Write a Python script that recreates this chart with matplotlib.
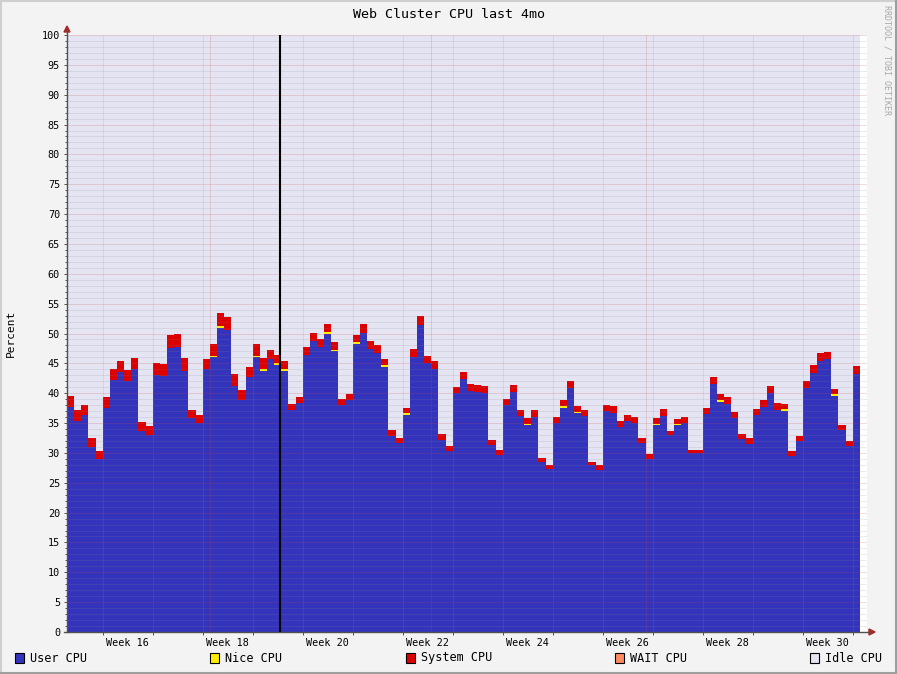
"""
Web Cluster CPU last 4mo - recreacion estilo rrdtool (areas apiladas por dia).
"""

import matplotlib
matplotlib.use("Agg")

import matplotlib.pyplot as plt
import numpy as np
from matplotlib.lines import Line2D
from matplotlib.patches import Rectangle, Polygon

W, H, DPI = 897, 674, 100
MONO = "DejaVu Sans Mono"

# --- datos (porcentaje por dia, 111 dias) ---
user_cpu = [
    37.7, 35.3, 36.3, 31.0, 28.9, 37.6, 42.2, 43.6, 42.0, 44.0,
    33.7, 33.0, 43.0, 42.8, 47.6, 47.7, 43.7, 35.8, 35.0, 44.0,
    46.0, 51.0, 50.6, 41.2, 38.9, 42.7, 46.0, 43.7, 45.7, 44.8,
    43.8, 37.2, 38.4, 46.4, 48.7, 47.7, 50.0, 47.0, 38.0, 38.9,
    48.2, 50.1, 47.4, 46.7, 44.4, 32.9, 31.7, 36.3, 46.1, 51.4,
    45.1, 44.1, 32.2, 30.3, 40.0, 42.4, 40.4, 40.2, 40.0, 31.3,
    29.6, 38.0, 40.2, 36.2, 34.6, 36.0, 28.5, 27.3, 35.0, 37.6,
    40.9, 36.6, 36.2, 28.0, 27.1, 37.0, 36.7, 34.3, 35.3, 35.0,
    31.7, 29.0, 34.6, 36.2, 33.0, 34.6, 35.0, 30.0, 30.0, 36.5,
    41.5, 38.6, 38.2, 35.8, 32.3, 31.5, 36.3, 37.7, 40.0, 37.2,
    37.0, 29.5, 32.0, 40.9, 43.4, 45.4, 45.7, 39.5, 33.8, 31.2,
    43.2,
]
nice_cpu = [
    0, 0, 0, 0, 0, 0, 0, 0, 0, 0,
    0, 0, 0, 0, 0, 0, 0, 0, 0, 0,
    0.3, 0.3, 0, 0, 0, 0, 0.3, 0.3, 0, 0.3,
    0.3, 0, 0, 0, 0, 0, 0.3, 0.3, 0, 0,
    0.3, 0, 0, 0, 0.3, 0, 0, 0.3, 0, 0,
    0, 0, 0, 0, 0, 0, 0, 0, 0, 0,
    0, 0, 0, 0, 0.3, 0, 0, 0, 0, 0.3,
    0, 0.3, 0, 0, 0, 0, 0, 0, 0, 0,
    0, 0, 0.3, 0, 0, 0.3, 0, 0, 0, 0,
    0, 0.3, 0, 0, 0, 0, 0, 0, 0, 0,
    0.3, 0, 0, 0, 0, 0, 0, 0.3, 0, 0,
    0,
]
system_cpu = [
    1.8, 1.9, 1.7, 1.5, 1.4, 1.8, 1.8, 1.8, 1.9, 1.9,
    1.5, 1.5, 2.1, 2.1, 2.1, 2.3, 2.2, 1.4, 1.3, 1.7,
    2.0, 2.1, 2.2, 2.0, 1.6, 1.7, 1.9, 1.9, 1.5, 1.3,
    1.3, 1.0, 1.0, 1.3, 1.4, 1.4, 1.3, 1.3, 1.0, 1.0,
    1.2, 1.5, 1.3, 1.4, 1.0, 0.9, 0.8, 0.9, 1.3, 1.5,
    1.1, 1.3, 1.0, 0.9, 1.0, 1.2, 1.1, 1.2, 1.2, 0.9,
    0.9, 1.0, 1.2, 1.0, 0.9, 1.2, 0.6, 0.7, 1.0, 1.0,
    1.1, 1.0, 1.0, 0.5, 0.9, 1.0, 1.2, 1.0, 1.0, 1.0,
    0.8, 0.8, 0.9, 1.2, 0.7, 0.8, 1.0, 0.5, 0.5, 1.0,
    1.2, 1.0, 1.2, 1.1, 0.9, 1.0, 1.1, 1.2, 1.2, 1.2,
    0.9, 0.8, 0.8, 1.1, 1.3, 1.3, 1.2, 0.9, 0.9, 0.8,
    1.4,
]
week_labels = ["Week 16", "Week 18", "Week 20", "Week 22",
               "Week 24", "Week 26", "Week 28", "Week 30"]
legend_labels = ["User CPU", "Nice CPU", "System CPU", "WAIT CPU", "Idle CPU"]

COL_USER, COL_NICE, COL_SYS = "#3333BB", "#FFEE00", "#DD0000"
COL_WAIT, COL_IDLE = "#FF8A60", "#E4E4F2"
GRID = (0.55, 0.55, 0.55, 0.32)
MGRID = (0.80, 0.30, 0.30, 0.38)
ARROW = "#A52A2A"


def fx(px):
    return px / W


def fy(py):
    return 1 - py / H


fig = plt.figure(figsize=(W / DPI, H / DPI), dpi=DPI, facecolor="#F3F3F3")

# marco 3D tipo rrdtool
fig.add_artist(Line2D([0, 1], [fy(1), fy(1)], color="#CFCFCF", lw=1.5))
fig.add_artist(Line2D([fx(1), fx(1)], [0, 1], color="#CFCFCF", lw=1.5))
fig.add_artist(Line2D([0, 1], [fy(673), fy(673)], color="#9E9E9E", lw=1.5))
fig.add_artist(Line2D([fx(896), fx(896)], [0, 1], color="#9E9E9E", lw=1.5))

ax = fig.add_axes([fx(67), fy(632), (867 - 67) / W, (632 - 35) / H])
ax.set_facecolor("white")
ax.set_xlim(0, 112)
ax.set_ylim(0, 100)

user = np.array(user_cpu)
nice = np.array(nice_cpu)
system = np.array(system_cpu)
n = len(user)
edges = np.arange(n + 1)

top_user = user
top_nice = top_user + nice
top_sys = top_nice + system
ax.stairs(top_user, edges, baseline=0, fill=True, color=COL_USER, lw=0, zorder=1)
ax.stairs(top_nice, edges, baseline=top_user, fill=True, color=COL_NICE, lw=0, zorder=1)
ax.stairs(top_sys, edges, baseline=top_nice, fill=True, color=COL_SYS, lw=0, zorder=1)
ax.stairs(np.full(n, 100.0), edges, baseline=top_sys, fill=True, color=COL_IDLE, lw=0, zorder=1)

# rejilla punteada encima de las areas
dots = (0, (1, 1))
for y in range(1, 101):
    ax.axhline(y, color=MGRID if y % 5 == 0 else GRID, lw=0.72, ls=dots, zorder=3)
for d in range(5, 112, 7):
    ax.axvline(d, color=GRID, lw=0.72, ls=dots, zorder=3)
for d in (20, 51, 81):
    ax.axvline(d, color=MGRID, lw=0.72, ls=dots, zorder=3)

# VRULE
ax.axvline(29.8, color="black", lw=1.5, zorder=4)

for s in ax.spines.values():
    s.set_visible(False)

# ejes con flecha
fig.add_artist(Line2D([fx(67), fx(67)], [fy(632), fy(31)], color="#505050", lw=1))
fig.add_artist(Line2D([fx(64), fx(869)], [fy(632), fy(632)], color="#505050", lw=1))
fig.add_artist(Polygon([[fx(64), fy(32)], [fx(70), fy(32)], [fx(67), fy(26)]],
                       closed=True, color=ARROW, transform=fig.transFigure))
fig.add_artist(Polygon([[fx(869), fy(629)], [fx(869), fy(635)], [fx(875), fy(632)]],
                       closed=True, color=ARROW, transform=fig.transFigure))

ax.set_yticks(range(0, 101, 5))
ax.set_yticks(range(0, 101), minor=True)
ax.tick_params(axis="y", which="major", length=2, width=0.7, color="#505050",
               pad=3, labelsize=7.3)
ax.tick_params(axis="y", which="minor", length=1.5, width=0.7, color="#505050")
for lab in ax.get_yticklabels():
    lab.set_fontfamily(MONO)

ax.set_xticks([8.5 + 14 * i for i in range(len(week_labels))], week_labels)
ax.set_xticks(range(5, 112, 7), minor=True)
ax.tick_params(axis="x", which="major", length=0, pad=4, labelsize=7.3)
ax.tick_params(axis="x", which="minor", length=2, width=0.7, color="#505050")
for lab in ax.get_xticklabels():
    lab.set_fontfamily(MONO)

fig.text(0.5, fy(14), "Web Cluster CPU last 4mo", ha="center", va="center",
         fontsize=9.6, family=MONO)
fig.text(fx(11), fy(333), "Percent", ha="center", va="center", rotation=90,
         fontsize=8, family=MONO)
fig.text(fx(887), fy(5), "RRDTOOL / TOBI OETIKER", ha="center", va="top",
         rotation=270, fontsize=6, family=MONO, color="#A8A8A8")

# leyenda
legend_cols = [COL_USER, COL_NICE, COL_SYS, COL_WAIT, COL_IDLE]
legend_x = [15, 210, 406, 615, 810]
for lab, col, x in zip(legend_labels, legend_cols, legend_x):
    fig.add_artist(Rectangle((fx(x), fy(663)), 9 / W, 10 / H, facecolor=col,
                             edgecolor="black", lw=0.8, transform=fig.transFigure))
    fig.text(fx(x + 15), fy(658), lab, ha="left", va="center", fontsize=8.5, family=MONO)

fig.savefig("out.png", dpi=DPI, facecolor=fig.get_facecolor())
